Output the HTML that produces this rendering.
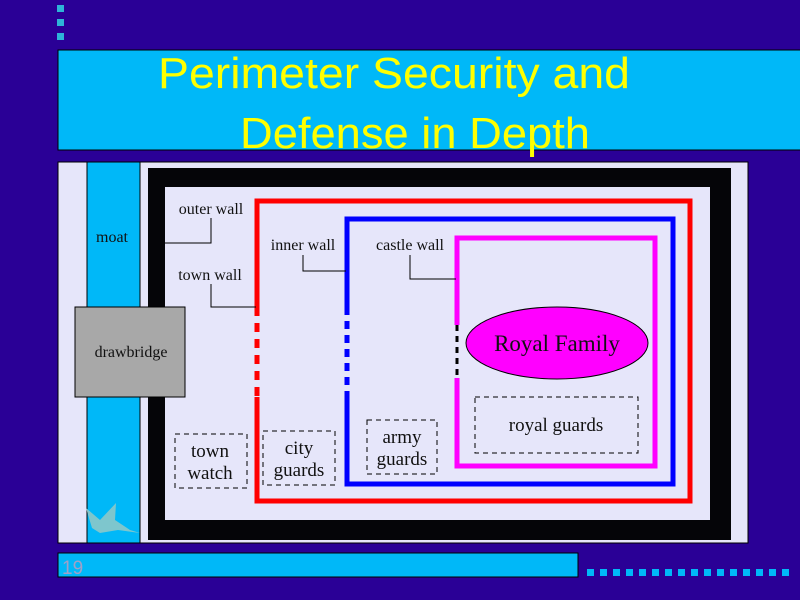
<!DOCTYPE html>
<html><head><style>
html,body{margin:0;padding:0;background:#2a0096;}
svg{display:block}
</style></head><body>
<svg width="800" height="600" xmlns="http://www.w3.org/2000/svg" font-family="Liberation Serif, serif">
<rect width="800" height="600" fill="#2a0096"/>
<rect x="57" y="5" width="7" height="7" fill="#2eb4d8"/>
<rect x="57" y="19" width="7" height="7" fill="#2eb4d8"/>
<rect x="57" y="33" width="7" height="7" fill="#2eb4d8"/>
<rect x="58" y="50" width="745" height="100" fill="#00b8f8" stroke="#000" stroke-width="1"/>
<g font-family="Liberation Sans, sans-serif" fill="#ffff00" font-size="44" text-anchor="middle">
<text x="394" y="88" textLength="472" lengthAdjust="spacingAndGlyphs">Perimeter Security and</text>
<text x="415" y="148" textLength="350" lengthAdjust="spacingAndGlyphs">Defense in Depth</text>
</g>
<rect x="58" y="162" width="690" height="381" fill="#e6e6fa" stroke="#000"/>
<rect x="87" y="162" width="53" height="381" fill="#00b8f8" stroke="#000"/>
<rect x="148" y="168" width="583" height="372" fill="#050508"/>
<rect x="165" y="187" width="545" height="333" fill="#e6e6fa"/>
<g fill="none" stroke-width="5">
<path d="M257 307 V201 H690 V501 H257 V397" stroke="#f00"/>
<line x1="257" y1="307" x2="257" y2="397" stroke="#f00" stroke-dasharray="9,7"/>
<path d="M347 307 V219 H673 V484 H347 V397" stroke="#00f"/>
<line x1="347" y1="307" x2="347" y2="397" stroke="#00f" stroke-dasharray="8,6"/>
<path d="M457 325 V238 H655 V466 H457 V378" stroke="#f0f"/>
<line x1="457" y1="325" x2="457" y2="378" stroke="#000" stroke-width="3" stroke-dasharray="6,5"/>
</g>
<g fill="none" stroke="#000" stroke-width="1">
<path d="M165 243 H211 V218"/>
<path d="M211 284 V307 H256"/>
<path d="M303 255 V271 H346"/>
<path d="M410 255 V279 H456"/>
</g>
<ellipse cx="557" cy="343" rx="91" ry="36" fill="#f0f" stroke="#000"/>
<rect x="75" y="307" width="110" height="90" fill="#a8a8a8" stroke="#000"/>
<g fill="none" stroke="#000" stroke-dasharray="5,4">
<rect x="175" y="434" width="72" height="54"/>
<rect x="263" y="431" width="72" height="54"/>
<rect x="367" y="420" width="70" height="54"/>
<rect x="475" y="397" width="163" height="56"/>
</g>
<g fill="#111" font-size="16" text-anchor="middle">
<text x="211" y="214">outer wall</text>
<text x="210" y="280">town wall</text>
<text x="303" y="250">inner wall</text>
<text x="410" y="250">castle wall</text>
<text x="112" y="242">moat</text>
<text x="131" y="357">drawbridge</text>
<text x="557" y="351" font-size="23">Royal Family</text>
<text x="556" y="431" font-size="19">royal guards</text>
<g font-size="19">
<text x="210" y="457">town</text><text x="210" y="479">watch</text>
<text x="299" y="454">city</text><text x="299" y="476">guards</text>
<text x="402" y="443">army</text><text x="402" y="465">guards</text>
</g>
</g>
<path d="M86 508 L100 520 L116 503 L115 520 L130 530 L140 533 L118 530 L100 533 L92 528 Z" fill="#8cc8c8" opacity="0.9"/>
<rect x="58" y="553" width="520" height="24" fill="#00b8f8" stroke="#000"/>
<text x="62" y="574" font-family="Liberation Sans, sans-serif" font-size="19" fill="#a0a0c8">19</text>
<g fill="#00b8f8">
<rect x="587" y="569" width="7" height="7"/><rect x="600" y="569" width="7" height="7"/><rect x="613" y="569" width="7" height="7"/><rect x="626" y="569" width="7" height="7"/><rect x="639" y="569" width="7" height="7"/><rect x="652" y="569" width="7" height="7"/><rect x="665" y="569" width="7" height="7"/><rect x="678" y="569" width="7" height="7"/><rect x="691" y="569" width="7" height="7"/><rect x="704" y="569" width="7" height="7"/><rect x="717" y="569" width="7" height="7"/><rect x="730" y="569" width="7" height="7"/><rect x="743" y="569" width="7" height="7"/><rect x="756" y="569" width="7" height="7"/><rect x="769" y="569" width="7" height="7"/><rect x="782" y="569" width="7" height="7"/>
</g>
</svg>
</body></html>
